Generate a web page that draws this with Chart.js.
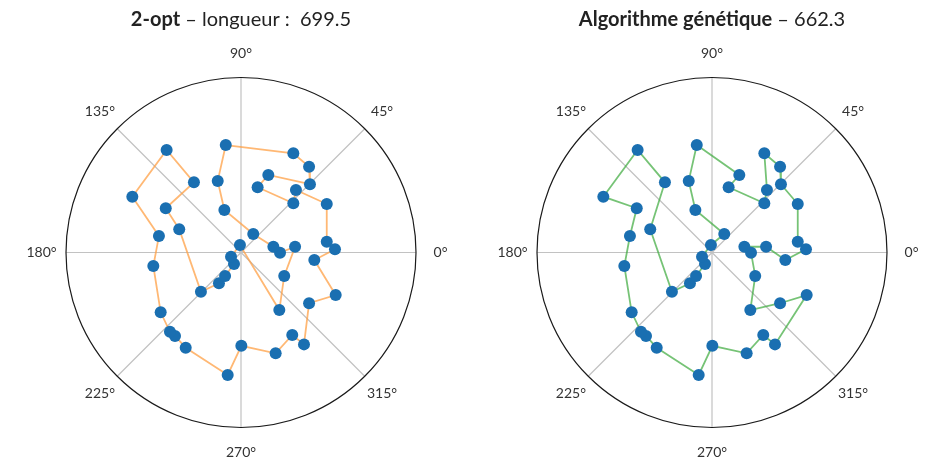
<!DOCTYPE html>
<html>
<head>
<meta charset="utf-8">
<script src="https://cdn.jsdelivr.net/npm/chart.js@4/dist/chart.umd.min.js"></script>
<style>
  body { margin: 0; background: #fff; width: 930px; height: 459px; position: relative; overflow: hidden; }
  canvas { position: absolute; top: 0; }
</style>
</head>
<body>
<canvas id="chart2opt" width="460" height="459" style="left:11px"></canvas>
<canvas id="chartGA" width="460" height="459" style="left:482px"></canvas>
<script>
// villes (coordonnées cartésiennes, rayon du cercle = 1)
const cityX = [-0.087, 0.299, 0.389, 0.394, 0.156, 0.095, 0.299, 0.314, 0.490, 0.490,
  0.537, 0.419, 0.541, 0.389, 0.360, 0.293, 0.198, 0.002, -0.076, -0.316,
  -0.377, -0.406, -0.459, -0.501, -0.469, -0.621, -0.425, -0.269, -0.430, -0.353,
  -0.229, -0.126, -0.091, -0.040, -0.057, -0.006, 0.219, 0.247, 0.309, 0.223,
  0.185, 0.070, -0.095, -0.133];
const cityY = [0.614, 0.567, 0.490, 0.390, 0.443, 0.373, 0.281, 0.357, 0.277, 0.062,
  0.018, -0.043, -0.243, -0.290, -0.525, -0.471, -0.576, -0.533, -0.700, -0.544,
  -0.477, -0.453, -0.342, -0.077, 0.094, 0.319, 0.586, 0.401, 0.253, 0.133,
  -0.224, -0.176, -0.134, -0.066, -0.024, 0.043, -0.329, -0.134, 0.033, -0.001,
  0.033, 0.106, 0.243, 0.409];

// ordre de visite
const tour2opt = [0, 1, 2, 3, 4, 5, 6, 7, 8, 9, 10, 11, 12, 13, 14, 15, 16, 17, 18, 19, 20, 21,
  22, 23, 24, 25, 26, 27, 28, 29, 30, 31, 32, 33, 34, 35, 36, 37, 38, 39, 40, 41, 42, 43];
const tourGA = [0, 4, 5, 6, 7, 1, 2, 3, 8, 9, 10, 11, 38, 40, 39, 37, 36, 13, 12, 14, 15, 16,
  17, 18, 19, 20, 21, 22, 23, 24, 28, 25, 26, 27, 29, 30, 31, 32, 33, 34, 35, 41, 42, 43];

const angleTicks = [0, 45, 90, 135, 180, 225, 270, 315];
const angleLabels = ['0°', '45°', '90°', '135°', '180°', '225°', '270°', '315°'];

const FONT = 'Lato, "DejaVu Sans", sans-serif';

// grille polaire + titre
const polarGrid = {
  id: 'polarGrid',
  beforeDatasetsDraw(chart) {
    const { ctx, scales: { x, y } } = chart;
    const cx = x.getPixelForValue(0), cy = y.getPixelForValue(0);
    ctx.save();
    ctx.strokeStyle = '#c2c2c2';
    ctx.lineWidth = 1.2;
    angleTicks.forEach(a => {
      const t = a * Math.PI / 180;
      ctx.beginPath();
      ctx.moveTo(cx, cy);
      ctx.lineTo(x.getPixelForValue(Math.cos(t)), y.getPixelForValue(Math.sin(t)));
      ctx.stroke();
    });
    ctx.strokeStyle = '#1a1a1a';
    ctx.lineWidth = 1.2;
    ctx.beginPath();
    ctx.arc(cx, cy, x.getPixelForValue(1) - cx, 0, Math.PI * 2);
    ctx.stroke();
    ctx.restore();
  },
  afterDraw(chart, args, opts) {
    const { ctx, scales: { x, y } } = chart;
    ctx.save();
    ctx.fillStyle = '#333';
    ctx.font = '14px ' + FONT;
    ctx.textAlign = 'center';
    ctx.textBaseline = 'middle';
    angleTicks.forEach((a, i) => {
      const t = a * Math.PI / 180;
      ctx.fillText(angleLabels[i], x.getPixelForValue(1.14 * Math.cos(t)), y.getPixelForValue(1.14 * Math.sin(t)));
    });
    // titre : partie grasse + partie normale
    ctx.fillStyle = '#222';
    ctx.textBaseline = 'alphabetic';
    ctx.textAlign = 'left';
    ctx.font = 'bold 20px ' + FONT;
    const wb = ctx.measureText(opts.bold).width;
    ctx.font = '20px ' + FONT;
    const wn = ctx.measureText(opts.rest).width;
    const x0 = x.getPixelForValue(0) - (wb + wn) / 2;
    ctx.font = 'bold 20px ' + FONT;
    ctx.fillText(opts.bold, x0, 26);
    ctx.font = '20px ' + FONT;
    ctx.fillText(opts.rest, x0 + wb, 26);
    ctx.restore();
  }
};

function makeChart(id, tour, lineColor, bold, rest) {
  const path = tour.concat([tour[0]]).map(i => ({ x: cityX[i], y: cityY[i] }));
  const pts = cityX.map((v, i) => ({ x: v, y: cityY[i] }));
  new Chart(document.getElementById(id), {
    type: 'scatter',
    data: {
      datasets: [
        { data: pts, backgroundColor: '#1a6fb1', borderWidth: 0, pointRadius: 6, order: 0 },
        { data: path, showLine: true, borderColor: lineColor, borderWidth: 1.8, pointRadius: 0, order: 1 }
      ]
    },
    options: {
      responsive: false,
      animation: false,
      layout: { padding: { left: 55, right: 55, top: 77.5, bottom: 31.5 } },
      scales: {
        x: { type: 'linear', min: -1, max: 1, display: false },
        y: { type: 'linear', min: -1, max: 1, display: false }
      },
      plugins: {
        legend: { display: false },
        tooltip: { enabled: false },
        polarGrid: { bold: bold, rest: rest }
      }
    },
    plugins: [polarGrid]
  });
}

makeChart('chart2opt', tour2opt, 'rgba(255,160,70,0.75)', '2-opt', ' – longueur :  699.5');
makeChart('chartGA', tourGA, 'rgba(60,170,60,0.7)', 'Algorithme génétique', ' – 662.3');
</script>
</body>
</html>
